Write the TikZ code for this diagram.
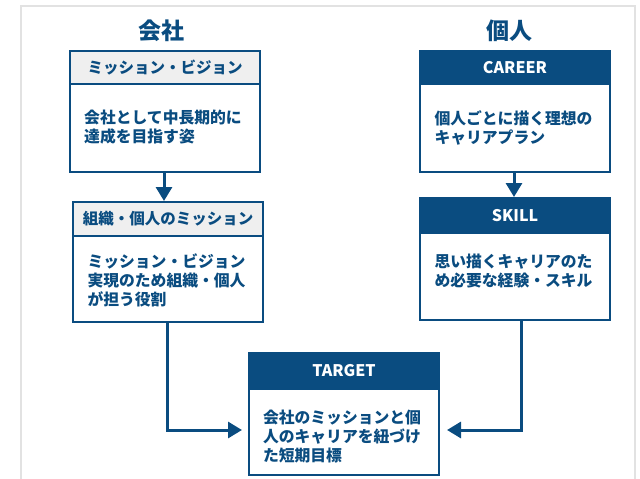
\documentclass[tikz,border=0pt]{standalone}
\usepackage{fontspec}
\setmainfont{Noto Sans CJK JP}
\usetikzlibrary{arrows.meta}
\definecolor{navy}{HTML}{0A4C80}
\definecolor{hdrgrey}{HTML}{EFEFEF}
\definecolor{framegrey}{HTML}{E2E2E2}
\tikzset{
  boxline/.style={draw=navy, line width=2pt},
  greyhead/.style={boxline, fill=hdrgrey, text=navy, minimum width=190pt, minimum height=33pt, anchor=north west, inner sep=0pt, font=\fontsize{15.5}{18}\selectfont\bfseries},
  bluehead/.style={boxline, fill=navy, text=white, minimum width=190pt, minimum height=34pt, anchor=north west, inner sep=0pt, font=\fontsize{16}{18}\selectfont\bfseries},
  bodybox/.style={boxline, fill=white, minimum width=190pt, anchor=north west, inner sep=0pt},
  bodytext/.style={text=navy, align=left, inner sep=0pt, font=\fontsize{15.8}{19}\selectfont\bfseries},
  title/.style={text=navy, inner sep=0pt, font=\fontsize{23}{26}\selectfont\bfseries},
  conn/.style={draw=navy, line width=3pt, -{Triangle[width=16pt,length=14pt]}},
}
\begin{document}
\begin{tikzpicture}[x=1pt,y=-1pt]
\useasboundingbox (0,0) rectangle (640,479);
\draw[framegrey, line width=2pt] (21,480) -- (21,6) -- (635,6) -- (635,480);

% titles
\node[title] (tc) at (161.5,31) {会社};
\node[title] (tp) at (509.5,31) {個人};

% left column
\node[bodybox, minimum height=88pt] (b1) at (69,83) {};
\node[greyhead] (h1) at (69,50) {ミッション・ビジョン};
\node[bodytext] (t1) at (163,127.5) {会社として中長期的に\\達成を目指す姿};

\node[bodybox, minimum height=86pt] (b2) at (72,235) {};
\node[greyhead, minimum height=34pt] (h2) at (72,201) {組織・個人のミッション};
\node[bodytext] (t2) at (166.5,280) {ミッション・ビジョン\\実現のため組織・個人\\が担う役割};

% right column
\node[bodybox, minimum height=88pt] (b3) at (419,83) {};
\node[bluehead, minimum height=33pt] (h3) at (419,50) {CAREER};
\node[bodytext] (t3) at (513.5,127.5) {個人ごとに描く理想の\\キャリアプラン};

\node[bodybox, minimum height=87pt] (b4) at (419,232) {};
\node[bluehead, minimum height=35pt] (h4) at (419,197) {SKILL};
\node[bodytext] (t4) at (513.5,271) {思い描くキャリアのた\\め必要な経験・スキル};

% target
\node[bodybox, minimum height=86pt] (b5) at (248,388) {};
\node[bluehead, minimum height=36pt] (h5) at (248,352) {TARGET};
\node[bodytext] (t5) at (342,437) {会社のミッションと個\\人のキャリアを紐づけ\\た短期目標};

% connectors
\draw[conn] (b1.south -| 164,0) -- (h2.north -| 164,0);
\draw[conn] (b3.south -| 514,0) -- (h4.north -| 514,0);
\coordinate (lc) at (167,430);
\coordinate (rc) at (521,430);
\draw[conn] (b2.south -| lc) -- (lc) -- ([xshift=-6pt]b5.west |- lc);
\draw[conn] (b4.south -| rc) -- (rc) -- ([xshift=7pt]b5.east |- rc);
\end{tikzpicture}
\end{document}
